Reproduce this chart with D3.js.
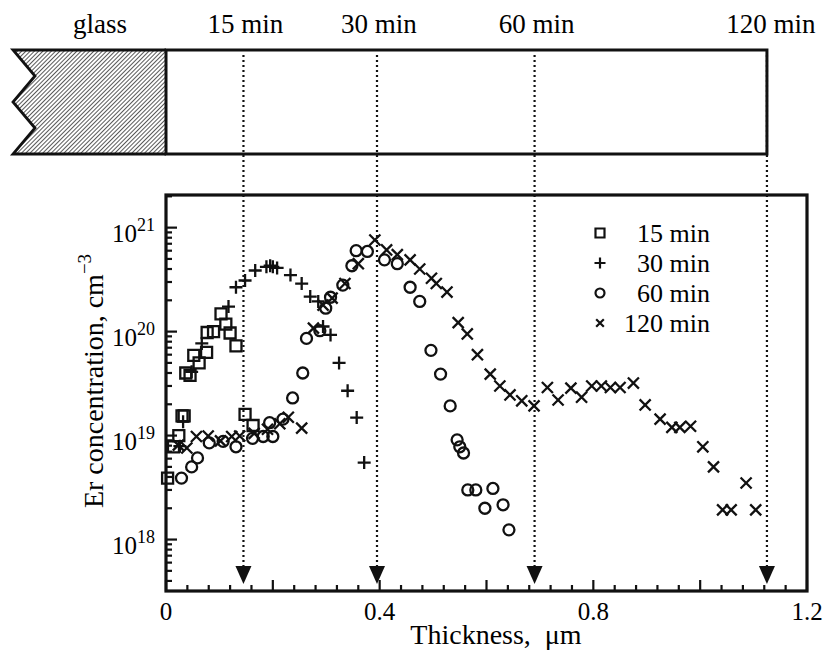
<!DOCTYPE html>
<html>
<head>
<meta charset="utf-8">
<script src="https://cdn.jsdelivr.net/npm/d3@7"></script>
<style>
  body { margin: 0; background: #fff; }
  text { font-family: "Liberation Serif", "DejaVu Serif", serif; fill: #000; }
</style>
</head>
<body>
<script>
// thickness (um) and Er concentration (cm^-3) per anneal time
var t15 = [0.003,0.014,0.024,0.03,0.034,0.037,0.045,0.052,0.062,0.076,0.077,0.089,0.103,0.112,0.12,0.131,0.148,0.163];
var c15 = [3.9e18,7.8e18,1.0e19,1.55e19,1.55e19,4.0e19,3.8e19,5.9e19,5.0e19,6.3e19,9.8e19,1.0e20,1.48e20,1.18e20,9.7e19,7.3e19,1.6e19,1.25e19];

var t30 = [0.026,0.032,0.048,0.067,0.117,0.131,0.148,0.167,0.188,0.195,0.2,0.208,0.233,0.254,0.27,0.285,0.294,0.308,0.324,0.34,0.357,0.371];
var c30 = [7.9e18,1.36e19,4.1e19,7.7e19,1.74e20,2.67e20,3.1e20,3.87e20,4.2e20,4.3e20,4.2e20,4.1e20,3.5e20,2.9e20,2.17e20,1.95e20,1.12e20,9.3e19,5.0e19,2.7e19,1.49e19,5.5e18];

var t60 = [0.029,0.048,0.059,0.081,0.107,0.131,0.162,0.182,0.194,0.2,0.219,0.237,0.256,0.263,0.288,0.299,0.308,0.331,0.348,0.356,0.377,0.409,0.433,0.457,0.475,0.496,0.514,0.532,0.545,0.55,0.557,0.565,0.58,0.597,0.612,0.631,0.642];
var c60 = [3.9e18,5.0e18,6.1e18,8.5e18,8.8e18,7.8e18,9.4e18,9.8e18,1.33e19,9.8e18,1.44e19,2.3e19,4.0e19,8.6e19,1.02e20,1.68e20,2.14e20,2.8e20,4.3e20,6.0e20,5.9e20,4.9e20,4.5e20,2.67e20,1.95e20,6.6e19,3.9e19,1.93e19,9.1e18,7.8e18,6.8e18,3.0e18,3.0e18,2.0e18,3.1e18,2.16e18,1.24e18];

var t120 = [0.023,0.039,0.057,0.079,0.102,0.123,0.138,0.165,0.19,0.213,0.229,0.254,0.276,0.294,0.311,0.335,0.36,0.391,0.413,0.433,0.457,0.475,0.497,0.506,0.526,0.547,0.564,0.583,0.607,0.625,0.644,0.666,0.689,0.714,0.734,0.758,0.778,0.797,0.815,0.832,0.85,0.875,0.897,0.925,0.947,0.962,0.982,1.005,1.025,1.042,1.058,1.086,1.104];
var c120 = [8.1e18,7.6e18,9.8e18,9.9e18,8.9e18,9.8e18,9.9e18,1.05e19,1.15e19,1.3e19,1.5e19,1.18e19,1.08e20,1.8e20,2.1e20,2.9e20,4.5e20,7.6e20,6.1e20,5.5e20,4.9e20,4.0e20,3.26e20,2.9e20,2.4e20,1.22e20,9.5e19,6.0e19,3.9e19,3.0e19,2.46e19,2.16e19,1.93e19,2.9e19,2.2e19,2.86e19,2.34e19,3.0e19,3.0e19,2.9e19,2.9e19,3.2e19,1.97e19,1.44e19,1.2e19,1.2e19,1.23e19,7.8e18,5.0e18,1.93e18,1.93e18,3.5e18,1.93e18];

var seriesNames = ["15 min","30 min","60 min","120 min"];
var filmDepth = [0.145, 0.395, 0.69, 1.125];   // film thickness for each time
var xTicks = [0, 0.4, 0.8, 1.2];
var yTicks = [18, 19, 20, 21];

var width = 825, height = 654;
var margin = {top: 195, right: 18, bottom: 63, left: 166};

var svg = d3.select("body").append("svg")
    .attr("width", width).attr("height", height);

var x = d3.scaleLinear().domain([0, 1.2]).range([margin.left, width - margin.right]);
var y = d3.scaleLog().domain([3.2e17, 2.06e21]).range([height - margin.bottom, margin.top]);

var bottom = height - margin.bottom;

// ---- top sketch: glass + film ----
var defs = svg.append("defs");
var pat = defs.append("pattern").attr("id", "hatch")
    .attr("patternUnits", "userSpaceOnUse").attr("width", 3).attr("height", 3)
    .attr("patternTransform", "rotate(45)");
pat.append("line").attr("x1", 0).attr("y1", 0).attr("x2", 0).attr("y2", 3)
    .attr("stroke", "#111").attr("stroke-width", 1.4);

var rTop = 50, rBot = 154;
var glassPts = [[x(0), rTop], [13, rTop], [35, 76], [13, 102], [35, 128], [13, rBot], [x(0), rBot]];
svg.append("path")
    .attr("d", d3.line()(glassPts))
    .attr("fill", "url(#hatch)")
    .attr("stroke", "#111").attr("stroke-width", 2.8);

svg.append("rect")
    .attr("x", x(0)).attr("y", rTop)
    .attr("width", x(filmDepth[3]) - x(0)).attr("height", rBot - rTop)
    .attr("fill", "none").attr("stroke", "#111").attr("stroke-width", 3);

svg.append("text").attr("x", 100).attr("y", 33).attr("text-anchor", "middle")
    .attr("font-size", 27).text("glass");

svg.selectAll(".tlabel").data(seriesNames).enter().append("text")
    .attr("x", function(d, i) { return x(filmDepth[i]) + (i == 3 ? 4 : 2); })
    .attr("y", 33).attr("text-anchor", "middle").attr("font-size", 27)
    .text(function(d) { return d; });

// dotted guides + arrows
svg.selectAll(".guide").data(filmDepth).enter().append("line")
    .attr("x1", function(d) { return x(d); }).attr("x2", function(d) { return x(d); })
    .attr("y1", rTop + 5).attr("y2", 566)
    .attr("stroke", "#111").attr("stroke-width", 2.2).attr("stroke-dasharray", "2,3");

svg.selectAll(".arrow").data(filmDepth).enter().append("path")
    .attr("d", function(d) {
        var cx = x(d);
        return "M" + (cx - 8) + ",566L" + (cx + 8) + ",566L" + cx + ",584Z";
    })
    .attr("fill", "#111");

// ---- axes frame and ticks ----
svg.append("rect")
    .attr("x", margin.left).attr("y", margin.top)
    .attr("width", width - margin.right - margin.left).attr("height", bottom - margin.top)
    .attr("fill", "none").attr("stroke", "#111").attr("stroke-width", 3.2);

var xMinor = d3.range(0, 1.2001, 0.04);
svg.selectAll(".xt").data(xMinor).enter().append("line")
    .attr("x1", function(d) { return x(d); }).attr("x2", function(d) { return x(d); })
    .attr("y1", bottom)
    .attr("y2", function(d, i) { return bottom - (i % 5 == 0 ? 11 : 6); })
    .attr("stroke", "#111").attr("stroke-width", 2.2);

svg.selectAll(".xl").data(xTicks).enter().append("text")
    .attr("x", function(d) { return x(d); }).attr("y", 620)
    .attr("text-anchor", "middle").attr("font-size", 25)
    .text(function(d) { return d == 0 ? "0" : d3.format(".1f")(d); });

var yMinor = [];
for (var e = 17; e <= 21; e++) {
    for (var m = 1; m <= 9; m++) {
        var v = m * Math.pow(10, e);
        if (v >= 3.2e17 && v <= 2.06e21) yMinor.push({v: v, major: m == 1});
    }
}
svg.selectAll(".yt").data(yMinor).enter().append("line")
    .attr("x1", margin.left)
    .attr("x2", function(d) { return margin.left + (d.major ? 11 : 6); })
    .attr("y1", function(d) { return y(d.v); }).attr("y2", function(d) { return y(d.v); })
    .attr("stroke", "#111").attr("stroke-width", 2.2);

var yl = svg.selectAll(".yl").data(yTicks).enter().append("text")
    .attr("x", 155).attr("y", function(d) { return y(Math.pow(10, d)) + 14; })
    .attr("text-anchor", "end").attr("font-size", 25);
yl.append("tspan").text("10");
yl.append("tspan").attr("font-size", 18).attr("dy", -11).text(function(d) { return d; });

svg.append("text").attr("x", 496).attr("y", 644)
    .attr("text-anchor", "middle").attr("font-size", 28)
    .attr("xml:space", "preserve")
    .text("Thickness,  \u03bcm");

var yt = svg.append("text")
    .attr("transform", "translate(103,381) rotate(-90)")
    .attr("text-anchor", "middle").attr("font-size", 28);
yt.append("tspan").text("Er concentration, cm");
yt.append("tspan").attr("font-size", 19).attr("dy", -12).text("\u22123");

// ---- markers ----
function markerPath(kind, s) {
    var h = s / 2;
    if (kind == 0) return "M" + (-h) + "," + (-h) + "h" + s + "v" + s + "h" + (-s) + "Z";
    if (kind == 1) return "M" + (-h) + ",0H" + h + "M0," + (-h) + "V" + h;
    if (kind == 2) return "M" + h + ",0A" + h + "," + h + " 0 1,1 " + (-h) + ",0A" + h + "," + h + " 0 1,1 " + h + ",0Z";
    var k = h * 0.85;
    return "M" + (-k) + "," + (-k) + "L" + k + "," + k + "M" + (-k) + "," + k + "L" + k + "," + (-k);
}

var allSeries = [[t15, c15], [t30, c30], [t60, c60], [t120, c120]];
var sizes = [11, 13, 11, 13];

allSeries.forEach(function(s, k) {
    var pts = s[0].map(function(t, i) { return {t: t, c: s[1][i]}; });
    svg.append("g").selectAll("path").data(pts).enter().append("path")
        .attr("transform", function(d) { return "translate(" + x(d.t) + "," + y(d.c) + ")"; })
        .attr("d", markerPath(k, sizes[k]))
        .attr("fill", "none").attr("stroke", "#111").attr("stroke-width", 2.3);
});

// ---- legend ----
var leg = svg.append("g");
seriesNames.forEach(function(name, k) {
    var ly = 233 + k * 30;
    leg.append("path").attr("transform", "translate(600," + ly + ")")
        .attr("d", markerPath(k, k == 1 ? 11 : 9))
        .attr("fill", "none").attr("stroke", "#111").attr("stroke-width", 2.2);
    leg.append("text").attr("x", 710).attr("y", ly + 9)
        .attr("text-anchor", "end").attr("font-size", 26).text(name);
});
</script>
</body>
</html>
